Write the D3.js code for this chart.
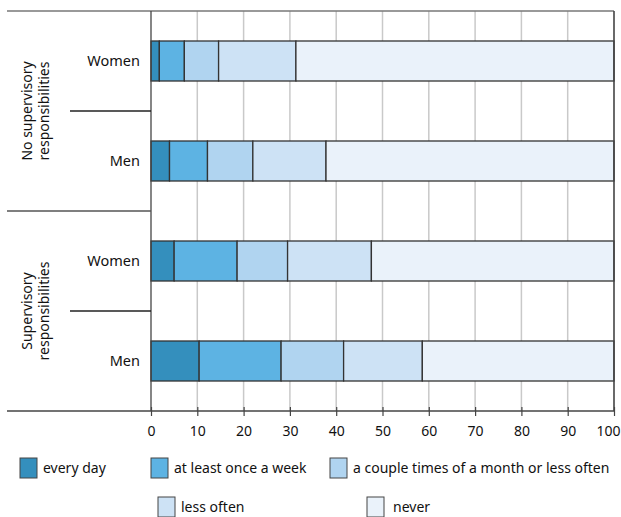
<!DOCTYPE html>
<html>
<head>
<meta charset="utf-8">
<script src="https://cdn.jsdelivr.net/npm/d3@7"></script>
<style>
  body { margin: 0; background: #fff; }
  svg text { font-family: "Noto Sans", "Open Sans", sans-serif; fill: #111; }
</style>
</head>
<body>
<div id="chart"></div>
<script>
// rows from top to bottom
const rows = ["nosup-women", "nosup-men", "sup-women", "sup-men"];
const rowLabels = ["Women", "Men", "Women", "Men"];
const groups = [
    { lines: ["No supervisory", "responsibilities"], rows: ["nosup-women", "nosup-men"] },
    { lines: ["Supervisory", "responsibilities"], rows: ["sup-women", "sup-men"] }
];

const categories = ["every day", "at least once a week", "a couple times of a month or less often", "less often", "never"];
const colors = ["#348fbd", "#5db3e3", "#b0d4f0", "#cde2f5", "#eaf2fa"];

// percent values per category, same order as rows
const everyDay   = [1.8, 4.0, 5.0, 10.4];
const weekly     = [5.4, 8.2, 13.6, 17.7];
const coupleMon  = [7.4, 9.8, 10.9, 13.5];
const lessOften  = [16.7, 15.8, 18.1, 17.0];
const never      = [68.7, 62.2, 52.4, 41.4];

const xTicks = [0, 10, 20, 30, 40, 50, 60, 70, 80, 90, 100];

const table = rows.map((r, i) => ({
    row: r,
    "every day": everyDay[i],
    "at least once a week": weekly[i],
    "a couple times of a month or less often": coupleMon[i],
    "less often": lessOften[i],
    "never": never[i]
}));

const W = 621, H = 517;
const mLeft = 151, mRight = 614, mTop = 11, mBottom = 411;

const svg = d3.select("#chart").append("svg")
    .attr("width", W)
    .attr("height", H);

const x = d3.scaleLinear().domain([0, 100]).range([mLeft, mRight]);
const y = d3.scaleBand().domain(rows).range([mTop, mBottom])
    .paddingInner(0.6).paddingOuter(0.3);
const color = d3.scaleOrdinal().domain(categories).range(colors);

// gridlines
svg.append("g")
    .selectAll("line")
    .data(xTicks.filter(d => d > 0 && d < 100))
    .enter().append("line")
    .attr("x1", d => x(d)).attr("x2", d => x(d))
    .attr("y1", mTop).attr("y2", mBottom)
    .attr("stroke", "#c9c9c9")
    .attr("stroke-width", 1.5);

// stacked bars
const stack = d3.stack().keys(categories);
const series = stack(table);

svg.append("g")
    .selectAll("g")
    .data(series)
    .enter().append("g")
    .attr("fill", d => color(d.key))
    .selectAll("rect")
    .data(d => d)
    .enter().append("rect")
    .attr("x", d => x(d[0]))
    .attr("width", d => x(d[1]) - x(d[0]))
    .attr("y", d => y(d.data.row))
    .attr("height", y.bandwidth())
    .attr("stroke", "#333")
    .attr("stroke-width", 1.3);

// frame lines
const frame = svg.append("g").attr("stroke", "#444").attr("stroke-width", 1.3);
frame.append("line").attr("x1", 7).attr("x2", mRight).attr("y1", mTop).attr("y2", mTop).attr("stroke", "#777");
frame.append("line").attr("x1", mRight).attr("x2", mRight).attr("y1", mTop).attr("y2", mBottom).attr("stroke-width", 1.6);
frame.append("line").attr("x1", mLeft).attr("x2", mLeft).attr("y1", mTop).attr("y2", mBottom);
const midY = (y(rows[1]) + y.bandwidth() + y(rows[2])) / 2;
frame.append("line").attr("x1", 7).attr("x2", mLeft).attr("y1", midY).attr("y2", midY).attr("stroke", "#555");
[[0, 1], [2, 3]].forEach(([a, b]) => {
    const yy = (y(rows[a]) + y.bandwidth() + y(rows[b])) / 2;
    frame.append("line").attr("x1", 70).attr("x2", mLeft).attr("y1", yy).attr("y2", yy).attr("stroke", "#222");
});

// x axis
const xAxis = svg.append("g")
    .attr("transform", "translate(0," + mBottom + ")")
    .call(d3.axisBottom(x).tickValues(xTicks).tickSize(5).tickPadding(10));
xAxis.select(".domain").attr("d", "M7,0H" + mRight).attr("stroke", "#444").attr("stroke-width", 1.3);
xAxis.selectAll(".tick line").attr("y1", -4).attr("stroke", "#444").attr("stroke-width", 1.2);
xAxis.selectAll(".tick text")
    .style("font-family", "Noto Sans")
    .style("font-size", "14px")
    .attr("fill", "#111");
// keep the last label inside the picture
xAxis.selectAll(".tick text").filter(d => d === 100)
    .attr("text-anchor", "end")
    .attr("x", 6);

// row labels
svg.append("g")
    .selectAll("text")
    .data(rows)
    .enter().append("text")
    .attr("x", 140)
    .attr("y", d => y(d) + y.bandwidth() / 2)
    .attr("dy", "0.35em")
    .attr("text-anchor", "end")
    .style("font-size", "14.5px")
    .text((d, i) => rowLabels[i]);

// group labels (rotated)
groups.forEach(g => {
    const cy = (y(g.rows[0]) + y(g.rows[1]) + y.bandwidth()) / 2;
    const t = svg.append("text")
        .attr("transform", "translate(32," + cy + ") rotate(-90)")
        .attr("text-anchor", "middle")
        .style("font-size", "14px");
    g.lines.forEach((ln, i) => {
        t.append("tspan").attr("x", 0).attr("dy", i === 0 ? "0" : "1.2em").text(ln);
    });
});

// legend
const legendPos = [
    { x: 20, y: 458 }, { x: 151, y: 458 }, { x: 330, y: 458 },
    { x: 158, y: 497 }, { x: 367, y: 497 }
];
const legend = svg.append("g")
    .selectAll("g")
    .data(categories)
    .enter().append("g")
    .attr("transform", (d, i) => "translate(" + legendPos[i].x + "," + legendPos[i].y + ")");
legend.append("rect")
    .attr("width", 17).attr("height", 20)
    .attr("fill", d => color(d))
    .attr("stroke", "#444").attr("stroke-width", 1);
legend.append("text")
    .attr("x", (d, i) => i === 4 ? 26 : 23)
    .attr("y", 10)
    .attr("dy", "0.35em")
    .style("font-size", "14px")
    .text(d => d);
</script>
</body>
</html>
